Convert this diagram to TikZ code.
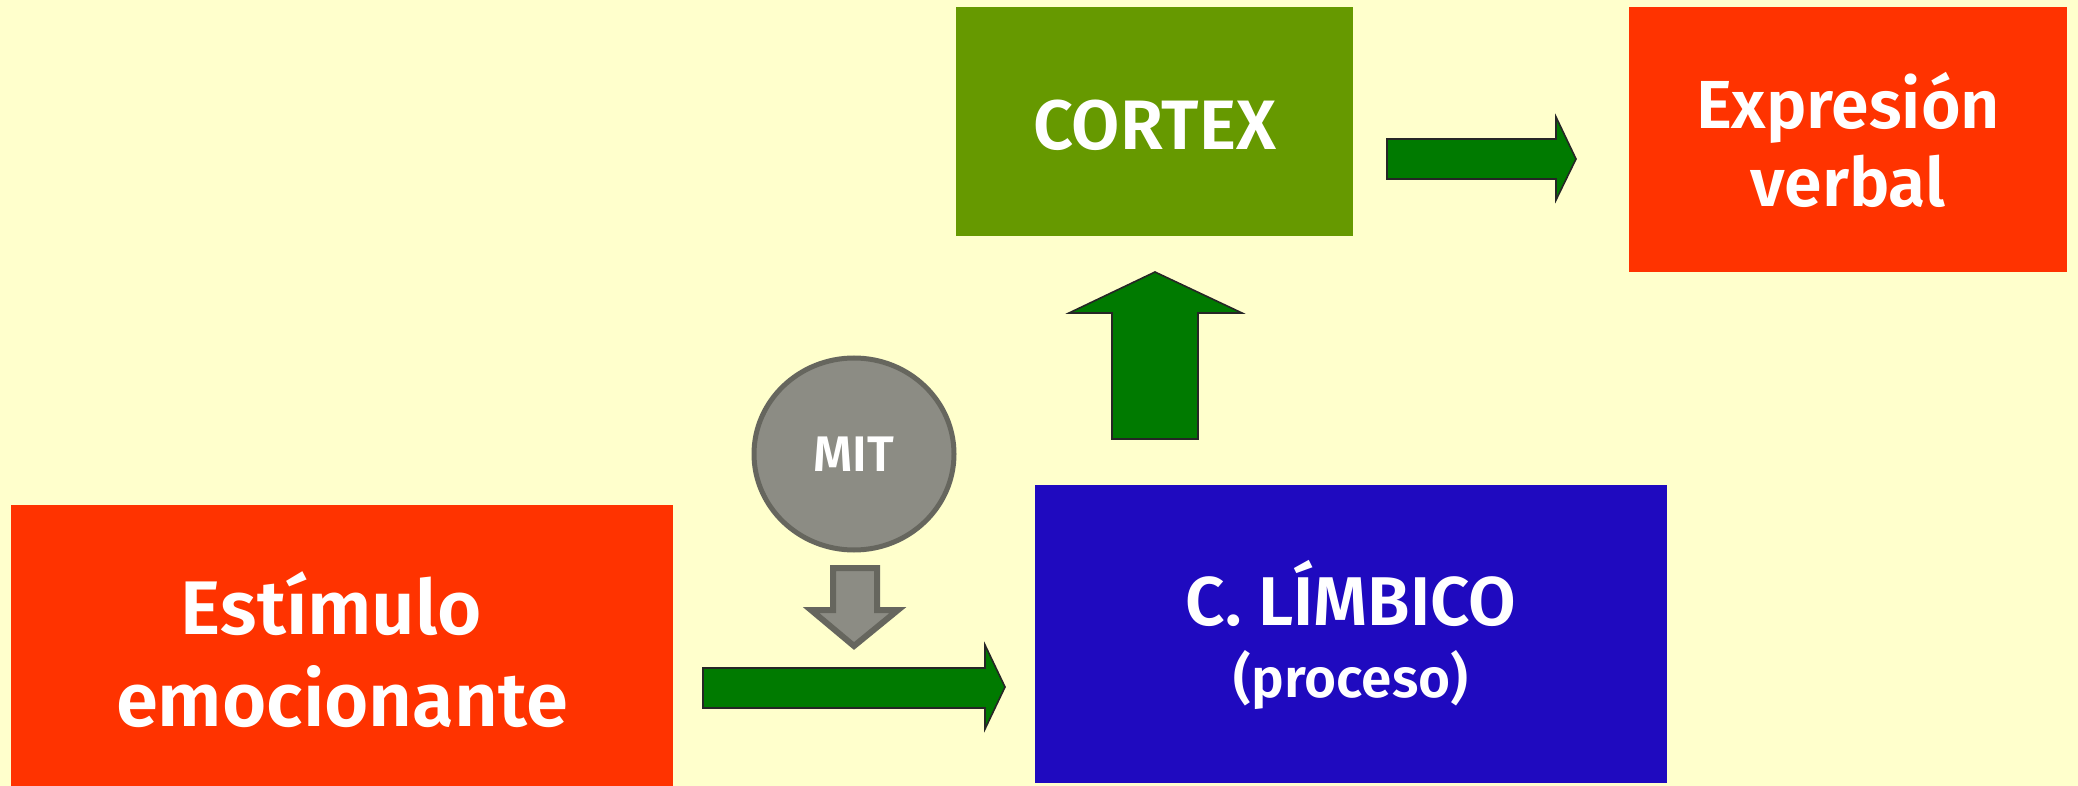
\documentclass[tikz,border=0pt]{standalone}
\usepackage{fontspec}
\setmainfont{Fira Sans}[BoldFont={Fira Sans SemiBold}]
\usetikzlibrary{shapes.geometric}
\definecolor{bg}{HTML}{FFFFCC}
\definecolor{redbox}{HTML}{FF3300}
\definecolor{greenbox}{HTML}{669900}
\definecolor{bluebox}{HTML}{1F0ABF}
\definecolor{arrowgreen}{HTML}{007A00}
\definecolor{mitfill}{HTML}{8C8C84}
\definecolor{mitline}{HTML}{66665E}
\tikzset{
  box/.style={rectangle, inner sep=0pt, text=white, align=center},
  blockarrow/.style={fill=arrowgreen, draw=black!85, line width=1.6pt, line join=miter},
  mitarrow/.style={fill=mitfill, draw=mitline, line width=6pt, line join=miter}
}
\begin{document}
\begin{tikzpicture}[x=1pt,y=-1pt]
\fill[bg] (0,0) rectangle (2078,786);
\useasboundingbox (0,0) rectangle (2078,786);
\begin{scope}
\clip (0,0) rectangle (2078,786);
\node[box, fill=greenbox, minimum width=397pt, minimum height=229pt] (cortex) at (1154.5,121.5) {};
\node[text=white, font=\bfseries\fontsize{70}{80}\selectfont] (cortext) at (1154.5,125) {CORTEX};
\node[box, fill=redbox, minimum width=438pt, minimum height=265pt, font=\bfseries\fontsize{68}{78}\selectfont] (expr) at (1848,139.5) {Expresión\\verbal};
\node[box, fill=redbox, minimum width=662pt, minimum height=290pt, font=\bfseries\fontsize{76}{92}\selectfont] (estim) at (342,650) {Estímulo\hspace*{21pt}\\emocionante};
\node[box, fill=bluebox, minimum width=632pt, minimum height=298pt] (limb) at (1351,634) {};
\node[text=white, font=\bfseries\fontsize{69}{76}\selectfont, anchor=base] (limbt) at (1351,625) {C. LÍMBICO};
\node[text=white, font=\bfseries\fontsize{55}{60}\selectfont, anchor=base] (limbp) at (1351,697) {(proceso)};
\node[ellipse, fill=mitfill, draw=mitline, line width=5pt, minimum width=200pt, minimum height=192pt, inner sep=0pt, text=white, font=\bfseries\fontsize{50}{56}\selectfont] (mit) at (854,454) {MIT};
\end{scope}
% MIT small arrow
\draw[mitarrow] (833,568) -- (877,568) -- (877,610) -- (898,610) -- (854,646) -- (811,610) -- (833,610) -- cycle;
% bottom arrow: estimulo -> limbico
\draw[blockarrow] (703,668) -- (985,668) -- (985,645) -- (1005,687) -- (985,729) -- (985,708) -- (703,708) -- cycle;
% up arrow: limbico -> cortex
\draw[blockarrow] (1112,439) -- (1112,313) -- (1069,313) -- (1155,272) -- (1242,313) -- (1198,313) -- (1198,439) -- cycle;
% right arrow: cortex -> expresion
\draw[blockarrow] (1387,139) -- (1556,139) -- (1556,117) -- (1576,159) -- (1556,200) -- (1556,179) -- (1387,179) -- cycle;
\end{tikzpicture}
\end{document}
